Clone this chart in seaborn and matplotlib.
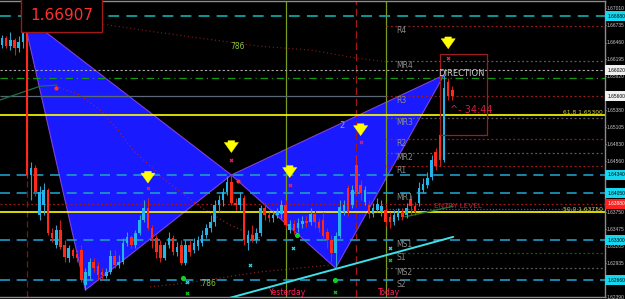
import matplotlib
matplotlib.use("Agg")
import matplotlib.pyplot as plt
import matplotlib.transforms as mtrans
from matplotlib.patches import Rectangle
import numpy as np
import pandas as pd
import seaborn as sns

# ---------------- data ----------------
open_ = [1.6642, 1.6653, 1.6640, 1.6650, 1.6637, 1.6647, 1.6679, 1.6434, 1.6445, 1.6370,
         1.6386, 1.6410, 1.6341, 1.6322, 1.6346, 1.6322, 1.6301, 1.6314, 1.6308, 1.6314,
         1.6258, 1.6272, 1.6295, 1.6288, 1.6279, 1.6272, 1.6279, 1.6304, 1.6290, 1.6295,
         1.6325, 1.6335, 1.6322, 1.6341, 1.6362, 1.6381, 1.6349, 1.6333, 1.6322, 1.6301,
         1.6322, 1.6333, 1.6311, 1.6322, 1.6293, 1.6322, 1.6314, 1.6320, 1.6325, 1.6338,
         1.6349, 1.6359, 1.6386, 1.6394, 1.6407, 1.6423, 1.6389, 1.6386, 1.6397, 1.6325,
         1.6338, 1.6330, 1.6341, 1.6381, 1.6370, 1.6365, 1.6370, 1.6372, 1.6386, 1.6346,
         1.6356, 1.6349, 1.6356, 1.6360, 1.6359, 1.6372, 1.6359, 1.6362, 1.6343, 1.6330,
         1.6309, 1.6336, 1.6375, 1.6413, 1.6386, 1.6450, 1.6418, 1.6391, 1.6386, 1.6372,
         1.6378, 1.6375, 1.6378, 1.6367, 1.6359, 1.6367, 1.6375, 1.6370, 1.6394, 1.6384,
         1.6389, 1.6410, 1.6418, 1.6431, 1.6471, 1.6498, 1.6458, 1.6583, 1.6570]
close_ = [1.6653, 1.6640, 1.6650, 1.6637, 1.6647, 1.6679, 1.6434, 1.6445, 1.6407, 1.6407,
          1.6410, 1.6341, 1.6333, 1.6346, 1.6319, 1.6303, 1.6317, 1.6304, 1.6301, 1.6266,
          1.6279, 1.6295, 1.6285, 1.6274, 1.6274, 1.6279, 1.6304, 1.6290, 1.6295, 1.6325,
          1.6335, 1.6322, 1.6341, 1.6362, 1.6381, 1.6349, 1.6333, 1.6311, 1.6301, 1.6322,
          1.6333, 1.6311, 1.6319, 1.6293, 1.6322, 1.6311, 1.6325, 1.6330, 1.6338, 1.6349,
          1.6359, 1.6386, 1.6394, 1.6407, 1.6423, 1.6389, 1.6386, 1.6397, 1.6330, 1.6338,
          1.6330, 1.6341, 1.6381, 1.6370, 1.6365, 1.6370, 1.6375, 1.6386, 1.6354, 1.6356,
          1.6346, 1.6357, 1.6360, 1.6357, 1.6372, 1.6359, 1.6349, 1.6336, 1.6330, 1.6309,
          1.6336, 1.6383, 1.6386, 1.6375, 1.6410, 1.6407, 1.6405, 1.6410, 1.6372, 1.6381,
          1.6388, 1.6384, 1.6359, 1.6359, 1.6370, 1.6375, 1.6367, 1.6381, 1.6384, 1.6375,
          1.6413, 1.6420, 1.6429, 1.6458, 1.6448, 1.6458, 1.6573, 1.6560, 1.6560]
high_ = [1.6658, 1.6656, 1.6663, 1.6653, 1.6656, 1.66907, 1.6685, 1.6455, 1.6450, 1.6416,
         1.6421, 1.6413, 1.6349, 1.6354, 1.6362, 1.6330, 1.6322, 1.6317, 1.6314, 1.6322,
         1.6285, 1.6301, 1.6301, 1.6295, 1.6285, 1.6285, 1.6314, 1.6314, 1.6306, 1.6333,
         1.6343, 1.6338, 1.6346, 1.6370, 1.6394, 1.6397, 1.6354, 1.6338, 1.6330, 1.6327,
         1.6343, 1.6338, 1.6327, 1.6330, 1.6330, 1.6330, 1.6333, 1.6336, 1.6346, 1.6356,
         1.6370, 1.6394, 1.6402, 1.6413, 1.6432, 1.6434, 1.6397, 1.6407, 1.6402, 1.6346,
         1.6354, 1.6349, 1.6386, 1.6389, 1.6375, 1.6378, 1.6381, 1.6394, 1.6394, 1.6362,
         1.6362, 1.6365, 1.6368, 1.6368, 1.6381, 1.6378, 1.6365, 1.6375, 1.6349, 1.6338,
         1.6343, 1.6394, 1.6394, 1.6418, 1.6418, 1.6466, 1.6426, 1.6416, 1.6394, 1.6389,
         1.6397, 1.6394, 1.6384, 1.6375, 1.6378, 1.6381, 1.6381, 1.6389, 1.6402, 1.6391,
         1.6423, 1.6429, 1.6439, 1.6466, 1.6477, 1.6509, 1.6594, 1.6589, 1.6576]
low_ = [1.6637, 1.6637, 1.6634, 1.6626, 1.6631, 1.6637, 1.6429, 1.6394, 1.6400, 1.6362,
        1.6370, 1.6338, 1.6327, 1.6317, 1.6316, 1.6295, 1.6295, 1.6301, 1.6295, 1.6263,
        1.6250, 1.6266, 1.6279, 1.6266, 1.6266, 1.6269, 1.6276, 1.6285, 1.6285, 1.6292,
        1.6320, 1.6317, 1.6317, 1.6338, 1.6359, 1.6346, 1.6317, 1.6301, 1.6295, 1.6298,
        1.6317, 1.6306, 1.6304, 1.6290, 1.6290, 1.6304, 1.6309, 1.6314, 1.6320, 1.6333,
        1.6343, 1.6352, 1.6375, 1.6384, 1.6402, 1.6386, 1.6378, 1.6378, 1.6322, 1.6314,
        1.6327, 1.6325, 1.6336, 1.6362, 1.6359, 1.6359, 1.6365, 1.6365, 1.6349, 1.6341,
        1.6340, 1.6343, 1.6349, 1.6351, 1.6354, 1.6349, 1.6343, 1.6330, 1.6317, 1.6295,
        1.6285, 1.6333, 1.6370, 1.6368, 1.6381, 1.6402, 1.6394, 1.6386, 1.6365, 1.6367,
        1.6375, 1.6368, 1.6352, 1.6349, 1.6354, 1.6362, 1.6362, 1.6365, 1.6370, 1.6370,
        1.6384, 1.6405, 1.6413, 1.6426, 1.6442, 1.6448, 1.6455, 1.6554, 1.6554]

# harmonic pattern swing points X, A, B, C, D (bar index, price)
pattern_idx = [5, 20, 55, 80, 106]
pattern_price = [1.66907, 1.6250, 1.6434, 1.6285, 1.6594]

# yellow signal arrows
arrow_idx = [35, 55, 69, 86, 107]
arrow_price = [1.6421, 1.6470, 1.6430, 1.6497, 1.6636]

# pivot levels
pivot_names = ["R4", "MR4", "R3", "MR3", "R2", "MR2", "R1", "MR1", "MS1", "S1", "MS2", "S2"]
pivot_levels = [1.6672, 1.6616, 1.6560, 1.6525, 1.6492, 1.6470, 1.6449, 1.6405,
                1.6330, 1.6309, 1.6285, 1.6266]

fib_names = ["61.8", "50.0"]
fib_levels = [1.6530, 1.6375]

top_band = 1.6688
white_level = 1.6602
green_level = 1.6589
entry_level = 1.6388
blue_level = 1.6380

# right-axis highlighted prices
box_prices = [1.6688, 1.6602, 1.6560, 1.6434, 1.6405, 1.6388, 1.6330, 1.6266]
box_kinds = ["cyan", "white", "white", "cyan", "cyan", "red", "cyan", "cyan"]

# visible price scale labels
ytick_values = [1.67010, 1.66735, 1.66460, 1.66195, 1.65920, 1.65380, 1.65105,
                1.64830, 1.64560, 1.63750, 1.63475, 1.63205, 1.62935, 1.62390]

# separators: start of pattern, yesterday, session marker, today
vline_idx = [6, 68, 85, 92]

# overlay curves
curveA_idx = [12.9, 18.7, 23.5, 27.8, 31.4, 39.1, 47.5, 54.7, 61.9]
curveA_price = [1.6576, 1.6562, 1.6538, 1.6506, 1.6474, 1.6426, 1.6383, 1.6354, 1.6333]
curveB_idx = [20.6, 35.5, 47.5, 61.9, 73.9, 85.1, 92.3]
curveB_price = [1.6679, 1.6664, 1.6653, 1.6640, 1.6634, 1.6621, 1.6615]
curveC_idx = [35.5, 43.9, 61.9, 78.7]
curveC_price = [1.6255, 1.6261, 1.6279, 1.6290]
green_curve_idx = [-0.5, 9.1, 13.2]
green_curve_price = [1.6554, 1.6576, 1.6578]
trend_idx = [54.4, 108.2]
trend_price = [1.6237, 1.6335]
ma_idx = [96.6, 108.2]
ma_price = [1.6367, 1.6384]

# pivot point markers
green_dot_idx = [43.4, 79.9, 70.7]
green_dot_price = [1.6269, 1.6266, 1.6338]
green_x_idx = [44.4, 79.9, 93.0]
green_x_price = [1.6245, 1.6247, 1.6298]
cyan_x_idx = [44.4, 59.5, 69.8, 93.0]
cyan_x_price = [1.6263, 1.6290, 1.6317, 1.6317]
red_x_idx = [35, 55, 69, 86, 107]
red_x_price = [1.6413, 1.6458, 1.6418, 1.6487, 1.6621]
red_dot_idx = [12.9, 56.5]
red_dot_price = [1.6574, 1.6424]

box_idx = [105.0, 116.3]
box_price = [1.6498, 1.6628]

# ---------------- styling ----------------
sns.set_theme(style="dark", rc={"axes.facecolor": "#000000", "figure.facecolor": "#000000",
                                "axes.edgecolor": "#8c8c8c", "grid.color": "#000000",
                                "axes.grid": False})
plt.rcParams["font.family"] = ["DejaVu Sans"]

SCALE_FONT = ["Liberation Sans", "DejaVu Sans"]
SCALE_SIZE = 3.5

UP = "#25b5ea"
DOWN = "#ff2a1a"
TEAL = "#1f9bc4"

fig = plt.figure(figsize=(6.25, 2.99), dpi=100)
ax = fig.add_axes([0, 2 / 299, 605 / 625, 296 / 299])
ax.set_facecolor("#000000")
XMIN, XMAX = -0.48, 144.6
ax.set_xlim(XMIN, XMAX)
ax.set_ylim(1.62388, 1.67124)

# harmonic triangles
ax.fill(pattern_idx[0:3], pattern_price[0:3], facecolor="#1a1aff", edgecolor="#8040e0", lw=0.8, zorder=1)
ax.fill(pattern_idx[2:5], pattern_price[2:5], facecolor="#1a1aff", edgecolor="#8040e0", lw=0.8, zorder=1)

# vertical separators
vstyles = [("#8b1010", (0, (5, 3)), 0.9), ("#7a9a20", "-", 0.9), ("#a01818", (0, (6, 3)), 0.9), ("#7a9a20", "-", 0.9)]
for xv, (c, ls, lw) in zip(vline_idx, vstyles):
    ax.axvline(xv, color=c, ls=ls, lw=lw, zorder=2)

# full-width levels
ax.axhline(top_band, color="#12a0a0", ls=(0, (6, 4)), lw=1.3, zorder=2)
ax.axhline(white_level, color="#a8a8a8", ls=(0, (2, 2)), lw=0.8, zorder=2)
ax.axhline(green_level, color="#119911", ls=(0, (6, 3, 1, 3)), lw=0.9, zorder=2)
ax.hlines(pivot_levels[2], XMIN, vline_idx[3], color="#5a6878", lw=0.9, zorder=2)
for lv in fib_levels:
    ax.axhline(lv, color="#ffff00", lw=1.2, zorder=2.5)
ax.axhline(entry_level, color="#a01818", ls=(0, (1.5, 2)), lw=0.9, zorder=2)
ax.hlines(blue_level, vline_idx[3], XMAX, color="#3050ff", ls=(0, (1, 1.5)), lw=0.9, zorder=2)
for lv in [pivot_levels[7], pivot_levels[8], pivot_levels[11]]:
    ax.axhline(lv, color=TEAL, ls=(0, (6, 4)), lw=1.2, zorder=2)
ax.axhline(1.6434, color=TEAL, ls=(0, (6, 4)), lw=1.2, zorder=2)

# pivot lines (from today's start)
pcolors = {"R": "#9a1c1c", "M": "#5c5c5c", "S": "#1c5a1c"}
for name, lv in zip(pivot_names, pivot_levels):
    if name not in ("MR1", "MS1", "S2"):
        ax.hlines(lv, vline_idx[3], XMAX, color=pcolors[name[0]], ls=(0, (1.5, 2)), lw=0.9, zorder=2)
    ax.text(vline_idx[3] + 2.5, lv, name, color="#8a8a8a", fontsize=5.5, va="top", ha="left",
            zorder=6)

# overlay curves (seaborn)
sns.lineplot(x=curveA_idx, y=curveA_price, ax=ax, color="#c02020", lw=0.8, ls=(0, (1, 2.5)), zorder=2)
sns.lineplot(x=curveB_idx, y=curveB_price, ax=ax, color="#8a1a1a", lw=0.8, ls=(0, (1, 2.5)), zorder=2)
sns.lineplot(x=curveC_idx, y=curveC_price, ax=ax, color="#a02020", lw=0.8, ls=(0, (1, 2.5)), zorder=2)
sns.lineplot(x=green_curve_idx, y=green_curve_price, ax=ax, color="#207040", lw=0.9, zorder=2)
sns.lineplot(x=trend_idx, y=trend_price, ax=ax, color="#40e0e8", lw=1.4, zorder=3)
sns.lineplot(x=ma_idx, y=ma_price, ax=ax, color="#207030", lw=1.0, zorder=3)

# candles
df = pd.DataFrame({"open": open_, "high": high_, "low": low_, "close": close_})
df["idx"] = np.arange(len(df))
up = df["close"] >= df["open"]
ax.vlines(df["idx"][up], df["low"][up], df["high"][up], color="#3a9ec8", lw=0.8, zorder=4)
ax.vlines(df["idx"][~up], df["low"][~up], df["high"][~up], color="#d02018", lw=0.8, zorder=4)
body = (df["close"] - df["open"]).abs().clip(lower=0.00006)
bottom = df[["open", "close"]].min(axis=1)
ax.bar(df["idx"][up], body[up], bottom=bottom[up], width=0.62, color=UP, lw=0, zorder=5)
ax.bar(df["idx"][~up], body[~up], bottom=bottom[~up], width=0.62, color=DOWN, lw=0, zorder=5)

# markers
sns.scatterplot(x=green_dot_idx, y=green_dot_price, ax=ax, color="#10d020", s=14, marker="o", lw=0, zorder=6)
sns.scatterplot(x=green_x_idx, y=green_x_price, ax=ax, color="#10c020", s=8, marker="X", lw=0, zorder=6)
sns.scatterplot(x=cyan_x_idx, y=cyan_x_price, ax=ax, color="#30d0e0", s=8, marker="X", lw=0, zorder=6)
sns.scatterplot(x=red_x_idx, y=red_x_price, ax=ax, color="#e02060", s=8, marker="X", lw=0, zorder=6)
sns.scatterplot(x=red_dot_idx, y=red_dot_price, ax=ax, color="#ff3030", s=9, marker="o", lw=0, zorder=6)
ax.scatter([pattern_idx[0]], [pattern_price[0] + 0.0004], color="#ff3020", s=10, marker="s", zorder=6)

# signal arrows
for xi, yp in zip(arrow_idx, arrow_price):
    ax.annotate("", xy=(xi, yp), xytext=(0, 8.5), textcoords="offset points",
                arrowprops=dict(arrowstyle="simple,head_width=0.85,head_length=0.6,tail_width=0.4",
                                fc="#ffff00", ec="#ffff00", lw=0.3, shrinkA=0, shrinkB=0), zorder=7)

# countdown box
ax.add_patch(Rectangle((box_idx[0], box_price[0]), box_idx[1] - box_idx[0], box_price[1] - box_price[0],
                       fill=False, ec="#a01c1c", lw=0.9, zorder=6))

# texts
ax.text(6.7, 1.6690, f"{pattern_price[0]:.5f}", color="#ff3030", fontsize=11, va="center", ha="left",
        zorder=8, bbox=dict(facecolor="#000000", edgecolor="#a01818", lw=1, pad=0.6, boxstyle="square"))
ax.text(56.5, 1.6640, "786", color="#90c040", fontsize=5.5, va="center", ha="center", zorder=6)
ax.text(49.3, 1.6261, ".786", color="#90c040", fontsize=5.5, va="center", ha="center", zorder=6)
ax.text(81.5, 1.6514, "2", color="#8fa0d8", fontsize=6, va="center", ha="center", zorder=6)
ax.text(104.6, 1.6596, "DIRECTION", color="#c8c8c8", fontsize=6, va="center", ha="left", zorder=8)
ax.text(107.4, 1.6538, "^- 34:44", color="#d02040", fontsize=7, va="center", ha="left", zorder=8)
ax.text(103.5, 1.6384, "ENTRY LEVEL", color="#b8203a", fontsize=5.2, va="center", ha="left", zorder=8)
ax.text(64.0, 1.6246, "Yesterday", color="#ff2060", fontsize=5.5, va="center", ha="left", zorder=8)
ax.text(90.2, 1.6246, "Today", color="#ff2060", fontsize=5.5, va="center", ha="left", zorder=8)
for name, lv in zip(fib_names, fib_levels):
    ax.text(XMAX - 0.5, lv, f"{name} {lv:.5f}", color="#d0d040", fontsize=4.3, va="bottom", ha="right",
            zorder=8)

# axes & ticks
ax.set_xticks([])
ax.yaxis.tick_right()
ax.set_yticks(ytick_values)
ax.set_yticklabels([f"{v:.5f}" for v in ytick_values], family=SCALE_FONT)
ax.tick_params(axis="y", colors="#c8c8c8", labelsize=SCALE_SIZE, length=0.8, width=0.6, pad=0.3)
ax.spines["left"].set_visible(False)
for s in ["right", "top", "bottom"]:
    ax.spines[s].set_color("#8c8c8c")
    ax.spines[s].set_linewidth(1)

trans = mtrans.blended_transform_factory(ax.transAxes, ax.transData)
box_colors = {"cyan": "#14d8f0", "white": "#f0f0f0", "red": "#ff2020"}
for p, k in zip(box_prices, box_kinds):
    ax.text(1.0035, p, f"{p:.5f}", transform=trans, fontsize=SCALE_SIZE, family=SCALE_FONT,
            color="#000000" if k != "red" else "#ffffff",
            va="center", ha="left", clip_on=False, zorder=9,
            bbox=dict(facecolor=box_colors[k], edgecolor="none", pad=0.5, boxstyle="square"))

ax.set_xlabel("")
ax.set_ylabel("")
fig.savefig("out.png", dpi=100, facecolor="#000000")
